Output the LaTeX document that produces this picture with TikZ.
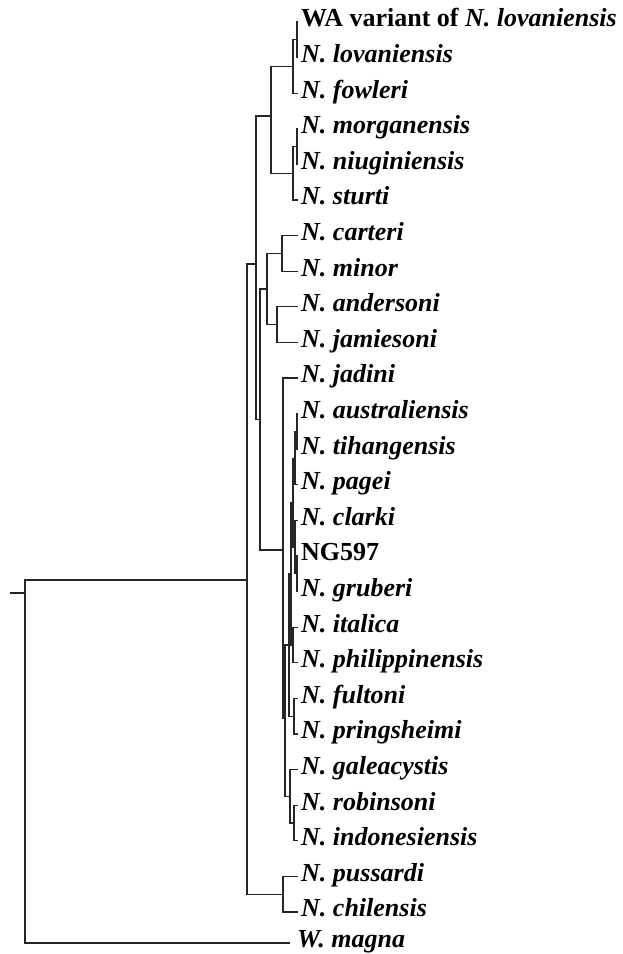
\documentclass[tikz,border=0pt]{standalone}
\usepackage{fontspec}
\setmainfont{Liberation Serif}
\usetikzlibrary{positioning}

\begin{document}
\begin{tikzpicture}[x=1pt,y=-1pt,node distance=35.6pt,
    branch/.style={draw=black!85,line width=1.1pt},
    taxon/.style={anchor=west,inner xsep=3pt,inner ysep=2pt,text height=1em,text depth=0.04em,
      font=\fontsize{26}{28}\selectfont\bfseries\itshape}]
    \useasboundingbox (0,0) rectangle (623,954);
    % taxa
    \node[taxon] (wa) at (298,22) {\upshape WA variant of \itshape N. lovaniensis};
    \node[taxon] (lov) [below=of wa.west,anchor=west] {N. lovaniensis};
    \node[taxon] (fow) [below=of lov.west,anchor=west] {N. fowleri};
    \node[taxon] (mor) [below=of fow.west,anchor=west] {N. morganensis};
    \node[taxon] (niu) [below=of mor.west,anchor=west] {N. niuginiensis};
    \node[taxon] (stu) [below=of niu.west,anchor=west] {N. sturti};
    \node[taxon] (car) [below=of stu.west,anchor=west] {N. carteri};
    \node[taxon] (min) [below=of car.west,anchor=west] {N. minor};
    \node[taxon] (and) [below=of min.west,anchor=west] {N. andersoni};
    \node[taxon] (jam) [below=of and.west,anchor=west] {N. jamiesoni};
    \node[taxon] (jad) [below=of jam.west,anchor=west] {N. jadini};
    \node[taxon] (aus) [below=of jad.west,anchor=west] {N. australiensis};
    \node[taxon] (tih) [below=of aus.west,anchor=west] {N. tihangensis};
    \node[taxon] (pag) [below=of tih.west,anchor=west] {N. pagei};
    \node[taxon] (cla) [below=of pag.west,anchor=west] {N. clarki};
    \node[taxon] (ngs) [below=of cla.west,anchor=west] {\upshape NG597};
    \node[taxon] (gru) [below=of ngs.west,anchor=west] {N. gruberi};
    \node[taxon] (ita) [below=of gru.west,anchor=west] {N. italica};
    \node[taxon] (phi) [below=of ita.west,anchor=west] {N. philippinensis};
    \node[taxon] (ful) [below=of phi.west,anchor=west] {N. fultoni};
    \node[taxon] (pri) [below=of ful.west,anchor=west] {N. pringsheimi};
    \node[taxon] (gal) [below=of pri.west,anchor=west] {N. galeacystis};
    \node[taxon] (rob) [below=of gal.west,anchor=west] {N. robinsoni};
    \node[taxon] (ind) [below=of rob.west,anchor=west] {N. indonesiensis};
    \node[taxon] (pus) [below=of ind.west,anchor=west] {N. pussardi};
    \node[taxon] (chi) [below=of pus.west,anchor=west] {N. chilensis};
    \node[taxon,inner xsep=7pt] (mag) at (290,943) {W. magna};
    % internal nodes
    \coordinate (wl) at (297,39.8);
    \coordinate (wlf) at (293,66.5);
    \coordinate (mn) at (297,146.6);
    \coordinate (mns) at (293,173.3);
    \coordinate (lovc) at (271,116);
    \coordinate (cm) at (282,253.4);
    \coordinate (aj) at (277,324.6);
    \coordinate (cmaj) at (267,289);
    \coordinate (ati) at (297,431.4);
    \coordinate (atp) at (295,458.1);
    \coordinate (ngg) at (297,573.8);
    \coordinate (cng) at (295,547.1);
    \coordinate (up) at (293,502.6);
    \coordinate (ip) at (293,645);
    \coordinate (uip) at (291,573.8);
    \coordinate (fp) at (294,716.2);
    \coordinate (mid) at (289,645);
    \coordinate (ri) at (294,823);
    \coordinate (gri) at (290,796.3);
    \coordinate (e) at (285,718.5);
    \coordinate (d) at (283,550);
    \coordinate (c) at (260,419.5);
    \coordinate (b) at (256,264);
    \coordinate (pc) at (283,894.2);
    \coordinate (a) at (247,580);
    \coordinate (root) at (25,593);
    \coordinate (base) at (10,593);
    % branches
    \draw[branch] (wl) |- (wa) (wl) |- (lov)
                  (wlf) |- (wl) (wlf) |- (fow)
                  (mn) |- (mor) (mn) |- (niu)
                  (mns) |- (mn) (mns) |- (stu)
                  (lovc) |- (wlf) (lovc) |- (mns)
                  (cm) |- (car) (cm) |- (min)
                  (aj) |- (and) (aj) |- (jam)
                  (cmaj) |- (cm) (cmaj) |- (aj)
                  (ati) |- (aus) (ati) |- (tih)
                  (atp) |- (ati) (atp) |- (pag)
                  (ngg) |- (ngs) (ngg) |- (gru)
                  (cng) |- (cla) (cng) |- (ngg)
                  (up) |- (atp) (up) |- (cng)
                  (ip) |- (ita) (ip) |- (phi)
                  (uip) |- (up) (uip) |- (ip)
                  (fp) |- (ful) (fp) |- (pri)
                  (mid) |- (uip) (mid) |- (fp)
                  (ri) |- (rob) (ri) |- (ind)
                  (gri) |- (gal) (gri) |- (ri)
                  (e) |- (mid) (e) |- (gri)
                  (d) |- (jad) (d) |- (e)
                  (c) |- (cmaj) (c) |- (d)
                  (b) |- (lovc) (b) |- (c)
                  (pc) |- (pus) (pc) |- (chi)
                  (a) |- (b) (a) |- (pc)
                  (root) |- (a) (root) |- (mag)
                  (base) -- (root);
\end{tikzpicture}
\end{document}
